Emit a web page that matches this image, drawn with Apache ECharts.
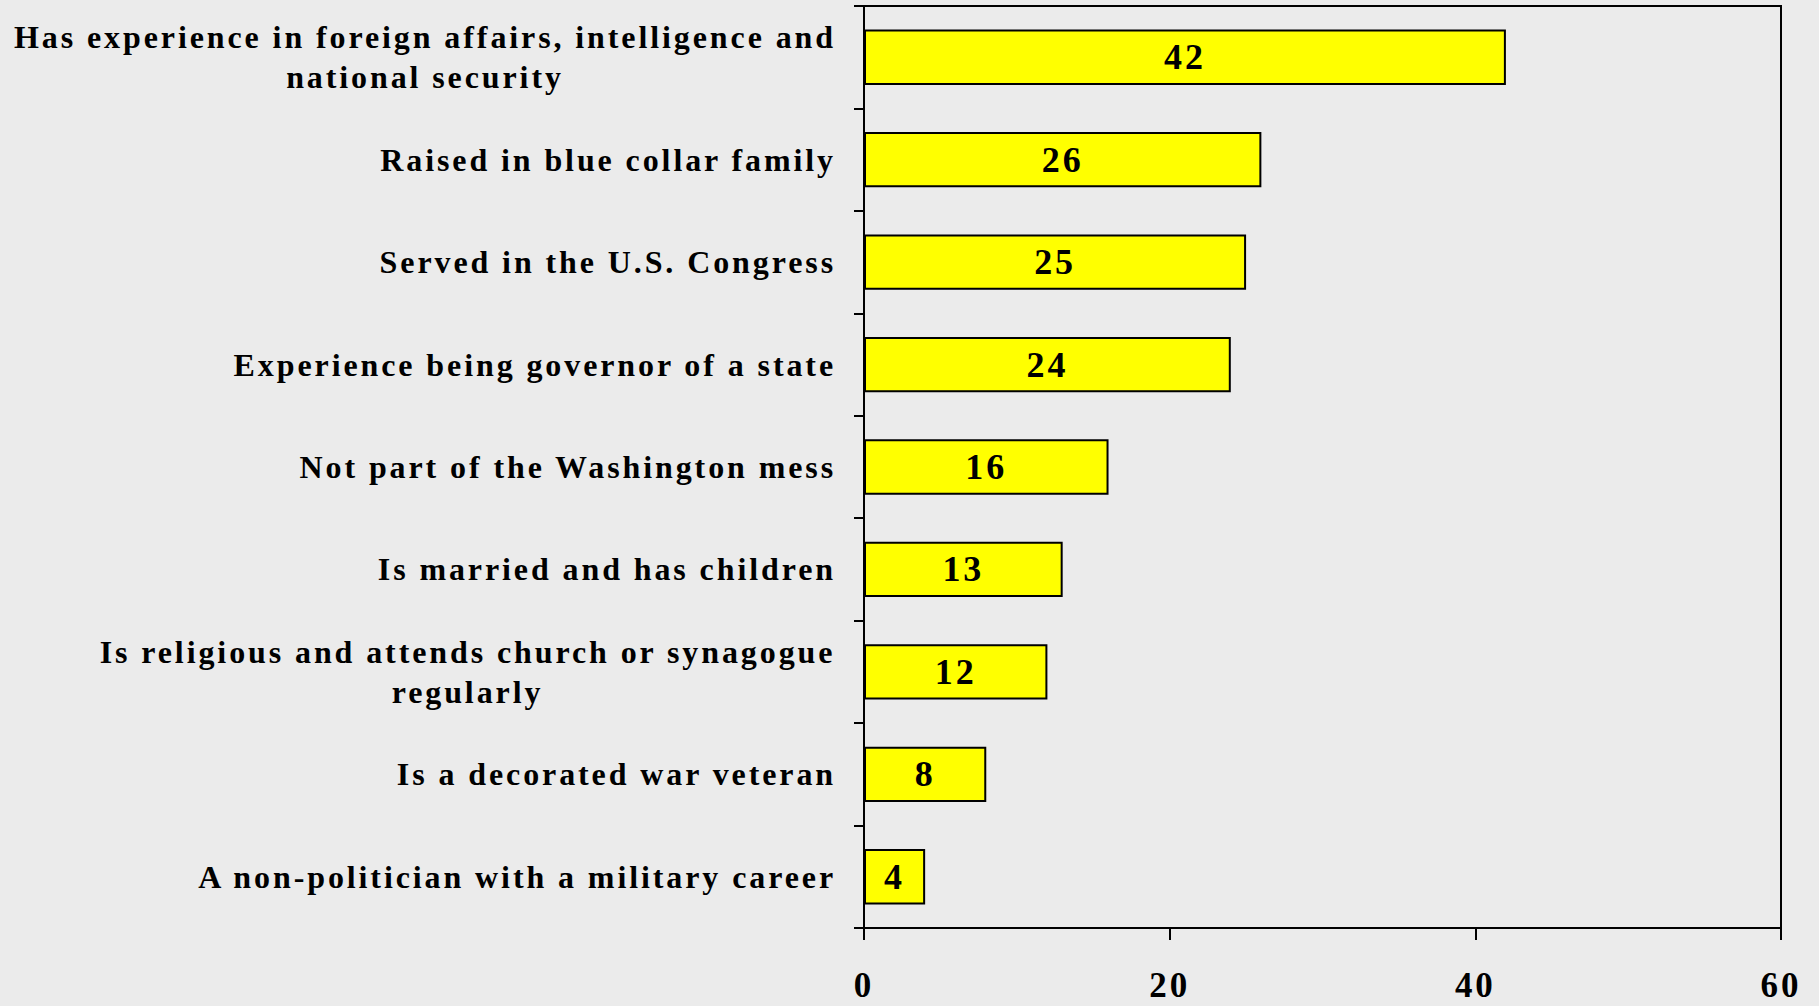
<!DOCTYPE html>
<html>
<head>
<meta charset="utf-8">
<script src="https://cdn.jsdelivr.net/npm/echarts@6/dist/echarts.min.js"></script>
<style>
  html, body { margin: 0; padding: 0; background: #ebebeb; }
  #chart { width: 1819px; height: 1006px; }
  /* loose tracking for all chart text */
  #chart text { letter-spacing: 2.9px; }
</style>
</head>
<body>
<div id="chart"></div>
<script>
// Categories listed top to bottom; '\n' marks a line break in the label
const categories = [
  'Has experience in foreign affairs, intelligence and\nnational security',
  'Raised in blue collar family',
  'Served in the U.S. Congress',
  'Experience being governor of a state',
  'Not part of the Washington mess',
  'Is married and has children',
  'Is religious and attends church or synagogue\nregularly',
  'Is a decorated war veteran',
  'A non-politician with a military career'
];
const values = [42, 26, 25, 24, 16, 13, 12, 8, 4];
const xTicks = [0, 20, 40, 60];

const SERIF = '"Liberation Serif", "Times New Roman", serif';
const LABEL_SIZE = 32;
const TRACKING = 2.9;

// Measure each wrapped label so its lines can be centred within the block
const ctx = document.createElement('canvas').getContext('2d');
ctx.font = 'bold ' + LABEL_SIZE + 'px ' + SERIF;
const rich = {};
const fmtMap = {};
categories.forEach((c, i) => {
  const lines = c.split('\n');
  if (lines.length > 1) {
    const w = Math.ceil(Math.max(...lines.map(l => ctx.measureText(l).width + TRACKING * l.length)));
    const key = 'l' + i;
    rich[key] = { width: w, align: 'center', fontFamily: SERIF, fontWeight: 'bold', fontSize: LABEL_SIZE, lineHeight: 40, color: '#000' };
    fmtMap[c] = lines.map(l => '{' + key + '|' + l + '}').join('\n');
  }
});

const chart = echarts.init(document.getElementById('chart'), null, { renderer: 'svg' });
chart.setOption({
  backgroundColor: '#ebebeb',
  animation: false,
  grid: {
    left: 864, right: 38, top: 6, bottom: 78,
    show: true, borderColor: '#000', borderWidth: 2, backgroundColor: 'transparent'
  },
  xAxis: {
    type: 'value',
    min: xTicks[0], max: xTicks[xTicks.length - 1], interval: 20,
    axisLine: { show: true, onZero: false, lineStyle: { color: '#000', width: 2 } },
    axisTick: { show: true, inside: false, length: 12, lineStyle: { color: '#000', width: 2 } },
    splitLine: { show: false },
    axisLabel: {
      margin: 40,
      fontFamily: SERIF, fontWeight: 'bold', fontSize: 35, lineHeight: 34, color: '#000'
    }
  },
  yAxis: {
    type: 'category',
    inverse: true,
    data: categories,
    axisLine: { show: true, lineStyle: { color: '#000', width: 2 } },
    axisTick: { show: true, length: 10, alignWithLabel: false, lineStyle: { color: '#000', width: 2 } },
    axisLabel: {
      margin: 28,
      align: 'right',
      fontFamily: SERIF, fontWeight: 'bold', fontSize: LABEL_SIZE, color: '#000',
      lineHeight: 40,
      formatter: v => fmtMap[v] || v,
      rich: rich
    }
  },
  series: [{
    type: 'bar',
    data: values,
    barCategoryGap: '46%',
    itemStyle: { color: '#ffff00', borderColor: '#000', borderWidth: 2 },
    label: {
      show: true, position: 'inside', color: '#000',
      fontFamily: SERIF, fontWeight: 'bold', fontSize: 36
    }
  }]
});
</script>
</body>
</html>
